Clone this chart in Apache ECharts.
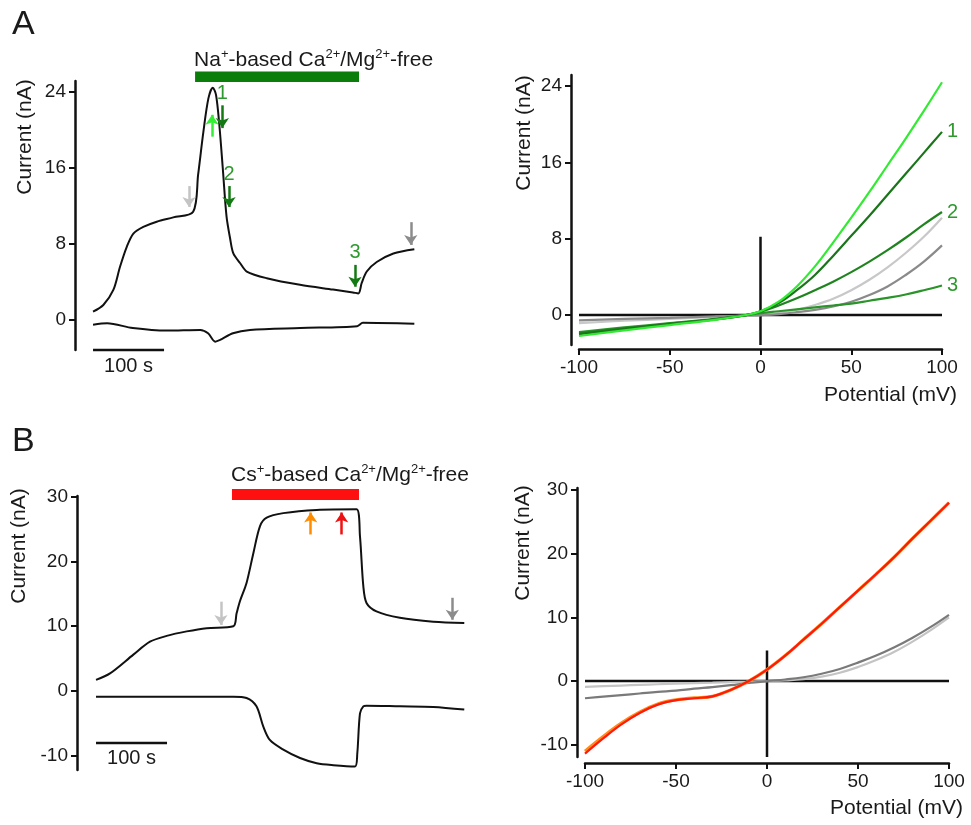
<!DOCTYPE html>
<html><head><meta charset="utf-8">
<script src="https://cdn.jsdelivr.net/npm/echarts@6/dist/echarts.min.js"></script>
<style>html,body{margin:0;padding:0;background:#fff}#c{width:971px;height:825px}</style>
</head><body><div id="c"></div>
<script>
const FONT = '"Liberation Sans", Arial, Helvetica, sans-serif';
const TXT = '#1a1a1a';

// ---------- Panel A, time course (s, nA) ----------
const aTopTime    = [0, 14.5, 28.6, 38, 47.5, 56.8, 70.8, 89.7, 113, 141, 148, 155.4, 162.4, 168.6, 173.2, 177.9, 182.7, 188, 193, 197.6, 207, 216.5, 244.6, 291.5, 338, 366, 373.7, 378.4, 385.5, 399.5, 423, 452.5];
const aTopCurrent = [0.87, 1.58, 3.16, 5.6, 7.7, 9.1, 9.8, 10.35, 10.8, 11.4, 15.3, 19.8, 23.3, 24.45, 23.7, 20.5, 16.0, 10.9, 8.6, 7.0, 6.0, 5.1, 4.4, 3.7, 3.2, 2.9, 2.8, 3.9, 5.1, 6.1, 7.0, 7.45];
const aBotTime    = [0, 20, 56, 104, 151, 162, 172, 179, 197, 221, 292, 372, 380, 452.5];
const aBotCurrent = [-0.5, -0.35, -0.85, -1.12, -1.05, -1.4, -2.28, -2.1, -1.4, -1.05, -0.85, -0.65, -0.3, -0.4];
const aBarTime = [143.7, 374.6];      // Na+-based Ca2+/Mg2+-free application
const aBarLevel = 25.6;
const aScaleBar = [0, 100];           // 100 s
// arrows: [time, from, to, colour, label]
const aArrows = [
  [135.2, 14.1, 11.9, '#c4c4c4', ''],
  [167.6, 19.3, 21.6, '#33ee33', ''],
  [182.1, 22.6, 20.2, '#137a13', '1'],
  [191.5, 14.1, 11.9, '#137a13', '2'],
  [369.0, 5.8, 3.5, '#137a13', '3'],
  [447.5, 10.3, 7.9, '#8c8c8c', '']
];

// ---------- Panel A, I-V (mV, nA) ----------
const ivVoltA = [-100, -75, -50, -25, -8, 0, 10, 20, 30, 40, 50, 60, 70, 80, 90, 100];
const ivA_peak  = [-2.2, -1.6, -1.05, -0.5, 0, 0.4, 1.4, 3.0, 5.1, 7.6, 10.2, 12.9, 15.7, 18.5, 21.4, 24.4];
const ivA_1     = [-2.0, -1.45, -0.95, -0.45, 0, 0.4, 1.25, 2.6, 4.2, 6.2, 8.3, 10.4, 12.6, 14.8, 17.0, 19.2];
const ivA_2     = [-1.9, -1.4, -0.9, -0.45, 0, 0.35, 1.0, 1.75, 2.6, 3.5, 4.5, 5.6, 6.8, 8.1, 9.5, 10.8];
const ivA_3     = [-1.8, -1.3, -0.85, -0.4, 0, 0.2, 0.4, 0.6, 0.8, 1.0, 1.2, 1.5, 1.8, 2.15, 2.6, 3.1];
const ivA_pre   = [-0.85, -0.6, -0.4, -0.2, -0.05, 0, 0.2, 0.55, 1.05, 1.7, 2.6, 3.7, 5.0, 6.5, 8.2, 10.2];
const ivA_post  = [-0.55, -0.4, -0.3, -0.15, -0.05, 0, 0.1, 0.3, 0.55, 0.9, 1.4, 2.1, 3.0, 4.2, 5.6, 7.3];

// ---------- Panel B, time course ----------
const bTopTime    = [0, 19.7, 52.6, 76, 99.5, 127.7, 155.9, 193.4, 198, 202.8, 212, 221.6, 231, 240.4, 263.8, 310.8, 367, 371.8, 376.5, 381, 395, 428, 475, 518.7];
const bTopCurrent = [1.7, 2.7, 5.6, 7.6, 8.5, 9.2, 9.7, 10.0, 12.0, 13.9, 16.7, 21.3, 25.5, 26.8, 27.5, 28.0, 28.1, 23.9, 16.2, 13.6, 12.3, 11.3, 10.7, 10.5];
const bBotTime    = [0, 193.4, 212, 226, 235.5, 244.8, 263.8, 287.3, 310.8, 334.3, 364.8, 368, 371.8, 376.5, 381, 428, 475, 518.7];
const bBotCurrent = [-0.9, -0.9, -1.1, -2.4, -5.5, -7.6, -9.1, -10.4, -11.2, -11.5, -11.7, -9.7, -3.5, -2.4, -2.3, -2.4, -2.5, -2.9];
const bBarTime = [191.5, 370.4];      // Cs+-based Ca2+/Mg2+-free application
const bBarLevel = 30.4;
const bScaleBar = [0, 100];
const bArrows = [
  [176.0, 13.8, 10.2, '#c4c4c4'],
  [302.4, 24.2, 27.6, '#ff8c00'],
  [346.0, 24.2, 27.6, '#ee1111'],
  [501.8, 14.4, 11.0, '#8c8c8c']
];

// ---------- Panel B, I-V ----------
const ivVoltB = [-100, -90, -80, -70, -60, -50, -40, -30, -20, -10, 0, 10, 20, 30, 40, 50, 60, 70, 80, 90, 100];
const ivB_red    = [-11.4, -9.0, -6.8, -5.0, -3.7, -3.0, -2.7, -2.4, -1.4, 0.0, 1.8, 4.0, 6.5, 9.0, 11.6, 14.2, 16.8, 19.5, 22.4, 25.2, 28.0];
const ivB_orange = [-11.0, -8.7, -6.6, -4.9, -3.6, -2.95, -2.65, -2.4, -1.4, 0.0, 1.8, 4.0, 6.5, 9.0, 11.6, 14.2, 16.8, 19.5, 22.4, 25.2, 28.0];
const ivB_pre    = [-0.9, -0.8, -0.7, -0.6, -0.5, -0.4, -0.32, -0.25, -0.15, -0.08, 0, 0.1, 0.3, 0.7, 1.3, 2.2, 3.3, 4.6, 6.2, 8.0, 10.0];
const ivB_post   = [-2.7, -2.45, -2.2, -1.95, -1.7, -1.5, -1.2, -0.95, -0.65, -0.3, 0, 0.25, 0.6, 1.15, 1.9, 2.9, 4.0, 5.3, 6.8, 8.5, 10.4];

const yTicksA = [0, 8, 16, 24];
const yTicksB = [-10, 0, 10, 20, 30];

// ---------- helpers ----------
const pairs = (xs, ys) => xs.map((x, i) => [x, ys[i]]);
const axLine = {color: '#111', width: 2.5};
const TICKFS = 19;
function yAx(g, min, max, ticks, offset) {
  return {gridIndex: g, type: 'value', min, max, offset: offset || 0, position: 'left',
    axisLine: {show: true, onZero: false, lineStyle: axLine},
    axisTick: {show: true, length: 6, lineStyle: {color: '#111', width: 2}, customValues: ticks},
    axisLabel: {fontSize: TICKFS, color: TXT, fontFamily: FONT, margin: 9, customValues: ticks},
    splitLine: {show: false}};
}
function xTime(g, min, max) {
  return {gridIndex: g, type: 'value', min, max, show: false, splitLine: {show: false}};
}
function xIV(g, offset) {
  return {gridIndex: g, type: 'value', min: -100, max: 100, interval: 50, offset, position: 'bottom',
    axisLine: {onZero: false, lineStyle: axLine},
    axisTick: {length: 6, lineStyle: {color: '#111', width: 2}},
    axisLabel: {fontSize: TICKFS, color: TXT, fontFamily: FONT, margin: 9},
    splitLine: {show: false}};
}
function line(g, data, color, width, extra) {
  return Object.assign({type: 'line', xAxisIndex: g, yAxisIndex: g, data, symbol: 'none',
    showSymbol: false, animation: false, silent: true, z: 2,
    lineStyle: {color, width, cap: 'butt'}}, extra || {});
}
function arrowSeries(g, arrows) {
  return line(g, [], '#000', 1, {
    markLine: {
      silent: true, animation: false, symbol: ['none', 'arrow'], symbolSize: 10, precision: 3,
      data: arrows.map(a => [
        {coord: [a[0], a[1]], lineStyle: {color: a[3], width: 2.5, type: 'solid'}, itemStyle: {color: a[3]},
         label: {show: !!a[4], formatter: a[4] || '', position: 'start', distance: 2,
                 color: '#2e9a2e', fontSize: 20, fontFamily: FONT}},
        {coord: [a[0], a[2]]}
      ])
    }
  });
}
function endLbl(t) {
  return {endLabel: {show: true, formatter: t, color: '#2e9a2e', fontSize: 20, fontFamily: FONT, distance: 5}};
}
const smooth = {smooth: 0.3};

const chart = echarts.init(document.getElementById('c'), null, {renderer: 'canvas'});

const aYmin = -3.16, aYmax = 25.16;
const bYmin = -12.25, bYmax = 30.15;
const ivAYmin = -3.14, ivAYmax = 25.16;
const ivBYmin = -11.92, ivBYmax = 30.31;

chart.setOption({
  backgroundColor: '#fff',
  textStyle: {fontFamily: FONT},
  grid: [
    {left: 75, top: 81, width: 348, height: 269},
    {left: 579, top: 75, width: 363, height: 270},
    {left: 77, top: 496, width: 395.3, height: 274},
    {left: 585, top: 488, width: 364, height: 269}
  ],
  xAxis: [xTime(0, -25.4, 464.7), xIV(1, 4), xTime(2, -26.8, 530), xIV(3, 6)],
  yAxis: [yAx(0, aYmin, aYmax, yTicksA), yAx(1, ivAYmin, ivAYmax, yTicksA, 8),
          yAx(2, bYmin, bYmax, yTicksB), yAx(3, ivBYmin, ivBYmax, yTicksB, 8)],
  series: [
    // Panel A left
    line(0, pairs(aTopTime, aTopCurrent), '#111', 2, smooth),
    line(0, pairs(aBotTime, aBotCurrent), '#111', 2, smooth),
    line(0, aScaleBar.map(t => [t, aYmin]), '#111', 2.5, {clip: false}),
    line(0, aBarTime.map(t => [t, aBarLevel]), '#0a7d0a', 10.5, {clip: false}),
    arrowSeries(0, aArrows),
    // Panel A right
    line(1, [[-100, 0], [100, 0]], '#111', 2.5),
    line(1, [[0, ivAYmin], [0, 8.2]], '#111', 2.5, {clip: false}),
    line(1, pairs(ivVoltA, ivA_pre), '#c8c8c8', 2.2, {smooth: 0.4}),
    line(1, pairs(ivVoltA, ivA_post), '#8a8a8a', 2.2, {smooth: 0.4}),
    line(1, pairs(ivVoltA, ivA_3), '#2a942a', 2.2, Object.assign({smooth: 0.4}, endLbl('3'))),
    line(1, pairs(ivVoltA, ivA_2), '#1f841f', 2.2, Object.assign({smooth: 0.4}, endLbl('2'))),
    line(1, pairs(ivVoltA, ivA_1), '#1a751a', 2.2, Object.assign({smooth: 0.4}, endLbl('1'))),
    line(1, pairs(ivVoltA, ivA_peak), '#33ea33', 2.2, {smooth: 0.4}),
    // Panel B left
    line(2, pairs(bTopTime, bTopCurrent), '#111', 2, smooth),
    line(2, pairs(bBotTime, bBotCurrent), '#111', 2, smooth),
    line(2, bScaleBar.map(t => [t, -8.06]), '#111', 2.5, {clip: false}),
    line(2, bBarTime.map(t => [t, bBarLevel]), '#ff1010', 11, {clip: false}),
    arrowSeries(2, bArrows),
    // Panel B right
    line(3, [[-100, 0], [100, 0]], '#111', 2.5),
    line(3, [[0, ivBYmin], [0, 4.8]], '#111', 2.5, {clip: false}),
    line(3, pairs(ivVoltB, ivB_pre), '#c4c4c4', 2.2, {smooth: 0.4}),
    line(3, pairs(ivVoltB, ivB_post), '#7a7a7a', 2.2, {smooth: 0.4}),
    line(3, pairs(ivVoltB, ivB_orange), '#ff8c1a', 3.2, {smooth: 0.4}),
    line(3, pairs(ivVoltB, ivB_red), '#ff1a0a', 2.2, {smooth: 0.4})
  ]
});

// ---------- text annotations positioned through the axes ----------
const px = (g, p) => chart.convertToPixel({xAxisIndex: g, yAxisIndex: g}, p);
const aBarL = px(0, [aBarTime[0], aBarLevel]);
const bBarL = px(2, [bBarTime[0], bBarLevel]);
const aSB = px(0, [(aScaleBar[0] + aScaleBar[1]) / 2, aYmin]);
const bSB = px(2, [(bScaleBar[0] + bScaleBar[1]) / 2, -8.06]);

const sup = {fontSize: 13, verticalAlign: 'top', lineHeight: 13, fontFamily: FONT, fill: TXT};
function cond(x, y, ion) {
  return {type: 'text', x, y, silent: true, style: {
    text: ion + '{s|+}-based Ca{s|2+}/Mg{s|2+}-free',
    fontSize: 21, lineHeight: 24, fontFamily: FONT, fill: TXT, align: 'left', verticalAlign: 'middle',
    rich: {s: sup}}};
}
function txt(x, y, s, opt) {
  return Object.assign({type: 'text', x, y, silent: true, style: Object.assign({
    text: s, fontSize: 21, fontFamily: FONT, fill: TXT, align: 'center', verticalAlign: 'middle'}, opt || {})});
}
function ytitle(x, y) {
  return {type: 'text', x, y, rotation: Math.PI / 2, silent: true, style: {
    text: 'Current (nA)', fontSize: 21, fontFamily: FONT, fill: TXT, align: 'center', verticalAlign: 'middle'}};
}

chart.setOption({
  graphic: [
    txt(12, 8, 'A', {fontSize: 34, align: 'left', verticalAlign: 'top'}),
    txt(12, 425, 'B', {fontSize: 34, align: 'left', verticalAlign: 'top'}),
    cond(aBarL[0] - 1, aBarL[1] - 17, 'Na'),
    cond(bBarL[0] - 1, bBarL[1] - 19, 'Cs'),
    txt(aSB[0], aSB[1] + 16, '100 s', {fontSize: 20}),
    txt(bSB[0], bSB[1] + 16, '100 s', {fontSize: 20}),
    ytitle(25, 137),
    ytitle(524, 133),
    ytitle(19, 546),
    ytitle(523, 543),
    txt(957, 395, 'Potential (mV)', {align: 'right'}),
    txt(963, 808, 'Potential (mV)', {align: 'right'})
  ]
});
</script></body></html>
